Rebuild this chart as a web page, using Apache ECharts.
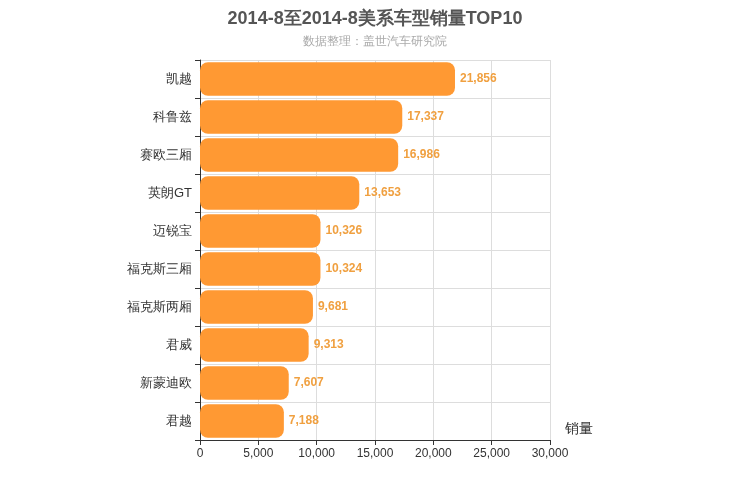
<!DOCTYPE html>
<html><head><meta charset="utf-8">
<script src="https://cdn.jsdelivr.net/npm/echarts@6/dist/echarts.min.js"></script>
<style>html,body{margin:0;padding:0}#c{width:750px;height:500px}</style>
</head><body><div id="c"></div>
<script>
var categories = ['凯越','科鲁兹','赛欧三厢','英朗GT','迈锐宝','福克斯三厢','福克斯两厢','君威','新蒙迪欧','君越'];
var values = [21856,17337,16986,13653,10326,10324,9681,9313,7607,7188];
var chart = echarts.init(document.getElementById('c'));
chart.setOption({
  title: {text: '2014-8至2014-8美系车型销量TOP10', subtext: '数据整理：盖世汽车研究院', left: 'center', top: 5,
    textStyle: {fontSize: 18, fontWeight: 'bold', color: '#555'}, subtextStyle: {fontSize: 12, color: '#aaa'}, itemGap: 8},
  grid: {left: 200, right: 200, top: 60, bottom: 60},
  xAxis: {type: 'value', min: 0, max: 30000, interval: 5000, name: '销量', nameGap: 15,
    nameTextStyle: {fontSize: 14, color: '#333', verticalAlign: 'top', padding: [-18,0,0,0]},
    axisLine: {show: true, lineStyle: {color: '#333'}}, axisTick: {show: true},
    axisLabel: {color: '#333', fontSize: 12}, splitLine: {lineStyle: {color: '#ddd'}}},
  yAxis: {type: 'category', data: categories, inverse: true,
    axisLine: {lineStyle: {color: '#333'}}, axisTick: {show: true},
    axisLabel: {color: '#333', fontSize: 13}, splitLine: {show: true, lineStyle: {color: '#ddd'}}},
  series: [{type: 'bar', data: values, barWidth: '88%',
    itemStyle: {color: '#FF9933', borderRadius: 8},
    label: {show: true, position: 'right', color: '#F0A040', fontSize: 12, fontWeight: 'bold',
      formatter: function(p){return p.value.toLocaleString('en-US');}}}]
});
</script></body></html>
